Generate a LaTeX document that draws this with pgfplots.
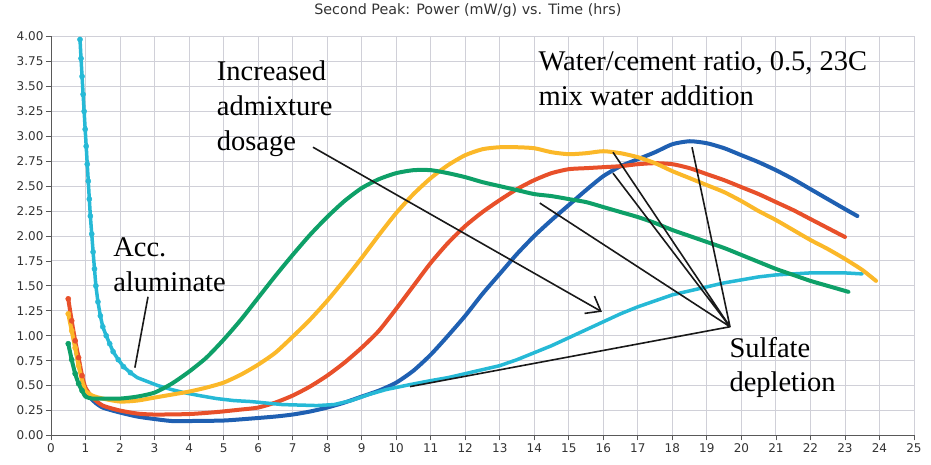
\documentclass[border=0pt]{standalone}
\usepackage{fontspec}
\setmainfont{DejaVu Sans}
\newfontfamily\tnr{Liberation Serif}
\usepackage{pgfplots}
\pgfplotsset{compat=1.18}
\usetikzlibrary{arrows.meta}

\definecolor{cblue}{RGB}{31,96,178}
\definecolor{cred}{RGB}{232,80,42}
\definecolor{cyel}{RGB}{251,184,41}
\definecolor{cgreen}{RGB}{14,160,104}
\definecolor{ccyan}{RGB}{38,185,214}
\definecolor{gridc}{RGB}{208,208,216}

\newcommand{\annot}{\tnr\fontsize{28.5}{34}\selectfont}

\begin{document}
\begin{tikzpicture}
\begin{axis}[
  scale only axis, width=863pt, height=399pt,
  xmin=0, xmax=25, ymin=0, ymax=4,
  xtick={0,1,...,25},
  ytick={0,0.25,0.5,0.75,1,1.25,1.5,1.75,2,2.25,2.5,2.75,3,3.25,3.5,3.75,4},
  axis x line*=bottom, axis y line*=left,
  axis line style={draw=black!65, line width=0.8pt, -},
  tick align=outside, major tick length=5pt,
  tick style={draw=black!65, line width=0.8pt},
  grid=major, grid style={draw=gridc, line width=0.9pt},
  tick label style={font=\fontsize{12}{14}\selectfont, text=black!80},
  yticklabel style={xshift=1pt},
  /pgf/number format/assume math mode=true,
  yticklabel style={/pgf/number format/.cd, fixed, fixed zerofill, precision=2},
  clip=false,
  title={Second Peak: Power (mW/g) vs. Time (hrs)},
  title style={font=\fontsize{14.3}{16}\selectfont, text=black!80, at={(0.483,1.049)}, anchor=center},
  every axis plot/.append style={line join=round, line cap=round},
]

% blue
\addplot[cblue, line width=4pt, smooth, tension=0.4] coordinates {
(0.55,1.2)(0.75,0.8)(1.0,0.45)(1.25,0.34)(1.5,0.28)(2.0,0.23)(2.5,0.19)(3.0,0.165)
(3.5,0.145)(4.0,0.145)(5.0,0.15)(5.8,0.17)(6.5,0.19)(7.0,0.21)(7.5,0.24)(8.0,0.28)
(8.5,0.33)(9.0,0.39)(9.5,0.45)(10.0,0.53)(10.5,0.65)(11.0,0.81)(11.5,1.0)(12.0,1.2)
(12.5,1.42)(13.0,1.62)(13.5,1.82)(14.0,2.0)(14.5,2.16)(15.0,2.31)(15.5,2.46)(16.0,2.6)
(16.5,2.7)(17.0,2.77)(17.5,2.84)(18.0,2.92)(18.5,2.95)(19.0,2.93)(19.5,2.88)(20.0,2.81)
(20.5,2.74)(21.0,2.66)(21.5,2.57)(22.0,2.47)(22.5,2.37)(23.0,2.27)(23.36,2.2)
};
% red
\addplot[cred, line width=4pt, smooth, tension=0.4] coordinates {
(0.5,1.37)(0.6,1.15)(0.7,0.95)(0.8,0.78)(0.9,0.6)(1.0,0.48)(1.2,0.38)(1.5,0.3)
(2.0,0.25)(2.5,0.22)(3.0,0.21)(4.0,0.215)(4.8,0.235)(5.5,0.26)(6.0,0.28)(6.5,0.33)
(7.0,0.4)(7.5,0.49)(8.0,0.6)(8.5,0.73)(9.0,0.88)(9.5,1.05)(10.0,1.27)(10.5,1.5)
(11.0,1.73)(11.5,1.93)(12.0,2.1)(12.5,2.24)(13.0,2.36)(13.5,2.47)(14.0,2.56)(14.5,2.63)
(15.0,2.67)(15.5,2.68)(16.0,2.69)(16.5,2.7)(17.0,2.72)(17.5,2.73)(18.0,2.72)(18.5,2.68)
(19.0,2.62)(19.5,2.56)(20.0,2.49)(20.5,2.42)(21.0,2.34)(21.5,2.26)(22.0,2.17)(22.5,2.08)
(23.0,1.99)
};
\addplot[only marks, mark=*, mark size=2.6pt, cred] coordinates {
(0.5,1.37)(0.6,1.15)(0.7,0.95)(0.8,0.78)(0.9,0.6)
};
% cyan
\addplot[ccyan, line width=3.5pt] coordinates {
(0.84,3.97)(0.87,3.78)(0.9,3.6)(0.93,3.42)(0.96,3.25)(0.99,3.07)(1.02,2.9)(1.05,2.72)
(1.08,2.55)(1.11,2.37)(1.14,2.2)(1.18,2.02)(1.22,1.84)(1.26,1.67)(1.3,1.5)(1.36,1.34)
(1.43,1.2)(1.5,1.09)(1.6,1.0)(1.7,0.92)(1.8,0.84)(1.95,0.76)(2.1,0.69)(2.3,0.63)
(2.5,0.58)(2.8,0.54)(3.1,0.5)(3.5,0.46)(3.85,0.43)(4.3,0.4)(4.8,0.37)(5.3,0.35)
(5.8,0.34)(6.7,0.31)(7.7,0.3)(8.2,0.31)(8.7,0.35)(9.2,0.41)(9.7,0.46)(10.4,0.51)
(11.0,0.55)(11.5,0.58)(12.0,0.62)(12.5,0.66)(13.0,0.7)(13.5,0.76)(14.0,0.83)(14.5,0.9)
(15.0,0.98)(15.5,1.06)(16.0,1.14)(16.5,1.22)(17.0,1.29)(17.5,1.35)(18.0,1.41)(18.5,1.45)
(19.0,1.49)(19.5,1.53)(20.0,1.56)(20.5,1.59)(21.0,1.61)(21.5,1.62)(22.0,1.63)(22.5,1.63)
(23.0,1.63)(23.5,1.62)
};
\addplot[only marks, mark=*, mark size=2.6pt, ccyan] coordinates {
(0.84,3.97)(0.87,3.78)(0.9,3.6)(0.93,3.42)(0.96,3.25)(0.99,3.07)(1.02,2.9)(1.05,2.72)
(1.08,2.55)(1.11,2.37)(1.14,2.2)(1.18,2.02)(1.22,1.84)(1.26,1.67)(1.3,1.5)(1.36,1.34)
(1.43,1.2)(1.5,1.09)(1.6,1.0)(1.7,0.92)(1.8,0.84)(1.95,0.76)(2.1,0.69)(2.3,0.63)
};
% yellow
\addplot[cyel, line width=4pt, smooth, tension=0.4] coordinates {
(0.5,1.22)(0.6,1.05)(0.7,0.88)(0.8,0.7)(0.9,0.55)(1.0,0.45)(1.2,0.4)(1.5,0.37)
(2.0,0.34)(2.5,0.35)(3.0,0.38)(3.5,0.41)(4.0,0.44)(4.5,0.48)(5.0,0.53)(5.5,0.61)
(6.0,0.71)(6.5,0.83)(7.0,0.99)(7.5,1.16)(8.0,1.35)(8.5,1.56)(9.0,1.78)(9.5,2.01)
(10.0,2.23)(10.5,2.42)(11.0,2.58)(11.5,2.71)(12.0,2.81)(12.5,2.87)(13.0,2.89)(13.5,2.89)
(14.0,2.88)(14.5,2.84)(15.0,2.82)(15.5,2.83)(16.0,2.85)(16.5,2.83)(17.0,2.79)(17.5,2.73)
(18.0,2.65)(18.5,2.58)(19.0,2.51)(19.5,2.44)(20.0,2.35)(20.5,2.25)(21.0,2.16)(21.5,2.06)
(22.0,1.96)(22.5,1.87)(23.0,1.77)(23.5,1.66)(23.9,1.55)
};
\addplot[only marks, mark=*, mark size=2.6pt, cyel] coordinates {
(0.5,1.22)(0.6,1.05)(0.7,0.88)(0.8,0.7)
};
% green
\addplot[cgreen, line width=4pt, smooth, tension=0.4] coordinates {
(0.5,0.92)(0.6,0.76)(0.7,0.62)(0.8,0.52)(0.9,0.45)(1.0,0.39)(1.2,0.37)(1.5,0.37)
(2.0,0.37)(2.5,0.39)(3.0,0.43)(3.5,0.52)(4.0,0.64)(4.5,0.78)(5.0,0.96)(5.5,1.16)
(6.0,1.38)(6.5,1.6)(7.0,1.81)(7.5,2.01)(8.0,2.19)(8.5,2.35)(9.0,2.48)(9.5,2.57)
(10.0,2.63)(10.5,2.66)(11.0,2.66)(11.5,2.63)(12.0,2.59)(12.5,2.54)(13.0,2.5)(13.5,2.46)
(14.0,2.42)(14.5,2.4)(15.0,2.37)(15.5,2.34)(16.0,2.29)(16.5,2.24)(17.0,2.19)(17.5,2.13)
(18.0,2.06)(18.5,2.0)(19.0,1.94)(19.5,1.88)(20.0,1.81)(20.5,1.74)(21.0,1.67)(21.5,1.61)
(22.0,1.55)(22.5,1.5)(23.1,1.44)
};
\addplot[only marks, mark=*, mark size=2.6pt, cgreen] coordinates {
(0.5,0.92)(0.6,0.76)(0.7,0.62)(0.8,0.52)(0.9,0.45)
};

% annotations
\node[anchor=base west, inner sep=0pt, font=\annot] at (axis cs:1.80,1.79) {Acc.};
\node[anchor=base west, inner sep=0pt, font=\annot] at (axis cs:1.80,1.44) {aluminate};
\node[anchor=base west, inner sep=0pt, font=\annot] at (axis cs:4.80,3.56) {Increased};
\node[anchor=base west, inner sep=0pt, font=\annot] at (axis cs:4.80,3.21) {admixture};
\node[anchor=base west, inner sep=0pt, font=\annot] at (axis cs:4.80,2.86) {dosage};
\node[anchor=base west, inner sep=0pt, font=\annot] at (axis cs:14.12,3.66) {Water/cement ratio, 0.5, 23C};
\node[anchor=base west, inner sep=0pt, font=\annot] at (axis cs:14.12,3.31) {mix water addition};
\node[anchor=base west, inner sep=0pt, font=\annot] at (axis cs:19.65,0.78) {Sulfate};
\node[anchor=base west, inner sep=0pt, font=\annot] at (axis cs:19.65,0.44) {depletion};

\draw[line width=1.6pt, black!90, -{Straight Barb[length=13pt,width=20pt]}]
  (axis cs:7.59,2.89) -- (axis cs:15.96,1.24);
\draw[line width=1.6pt, black!90] (axis cs:2.81,1.39) -- (axis cs:2.43,0.68);
\draw[line width=1.6pt, black!90, line join=round]
  (axis cs:10.40,0.49) -- (axis cs:19.67,1.09) -- (axis cs:14.16,2.33)
  (axis cs:16.28,2.84) -- (axis cs:19.67,1.09) -- (axis cs:16.28,2.63)
  (axis cs:18.57,2.89) -- (axis cs:19.67,1.09);

\coordinate (bbtl) at (axis cs:-1.4774,4.3659);
\coordinate (bbbr) at (axis cs:25.493,-0.2957);
\end{axis}
\pgfresetboundingbox
\path[use as bounding box] (bbtl) rectangle (bbbr);
\end{tikzpicture}
\end{document}
